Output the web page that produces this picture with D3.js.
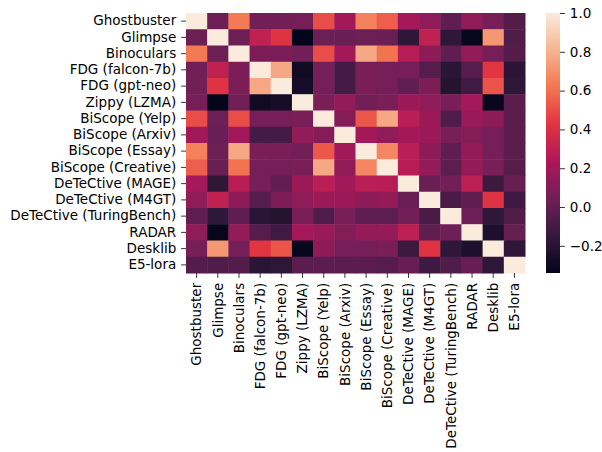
<!DOCTYPE html>
<html>
<head>
<meta charset="utf-8">
<script src="https://cdn.jsdelivr.net/npm/d3@7"></script>
<style>
	body { margin: 0; background: #fff; }
	text { font-family: "DejaVu Sans", sans-serif; fill: #000; }
</style>
</head>
<body>
<script>
var labels = ['Ghostbuster', 'Glimpse', 'Binoculars', 'FDG (falcon-7b)', 'FDG (gpt-neo)', 'Zippy (LZMA)',
	'BiScope (Yelp)', 'BiScope (Arxiv)', 'BiScope (Essay)', 'BiScope (Creative)', 'DeTeCtive (MAGE)',
	'DeTeCtive (M4GT)', 'DeTeCtive (TuringBench)', 'RADAR', 'Desklib', 'E5-lora'];

// correlation rows
var rowGhostbuster = [1, .03, .63, .05, .05, .06, .50, .20, .65, .55, .21, .14, -.01, .14, .06, -.05];
var rowGlimpse = [.03, 1, .03, .30, .42, -.34, .03, .02, .03, .02, -.17, .30, -.17, -.33, .72, -.06];
var rowBinoculars = [.63, .03, 1, .08, .08, .05, .50, .20, .77, .61, .27, .13, -.01, .15, .06, -.05];
var rowFalcon = [.05, .30, .08, 1, .77, -.29, .06, -.10, .07, .06, .06, -.04, -.19, -.04, .43, -.19];
var rowGptNeo = [.05, .42, .08, .77, 1, -.27, .06, -.10, .07, .06, 0, .08, -.21, -.11, .52, -.18];
var rowZippy = [.06, -.34, .05, -.29, -.27, 1, .07, .15, .05, .07, .18, .14, .07, .21, -.32, -.03];
var rowYelp = [.50, .03, .50, .06, .06, .07, 1, .11, .53, .77, .28, .18, -.06, .17, .13, -.03];
var rowArxiv = [.20, .02, .20, -.10, -.10, .15, .11, 1, .20, .14, .20, .18, .07, .10, .06, -.03];
var rowEssay = [.65, .03, .77, .07, .07, .05, .53, .20, 1, .67, .28, .13, -.01, .16, .06, -.03];
var rowCreative = [.55, .02, .61, .06, .06, .07, .77, .14, .67, 1, .27, .15, -.02, .16, .07, -.04];
var rowMage = [.21, -.17, .27, .06, 0, .18, .28, .20, .28, .27, 1, .02, .05, .29, -.13, .01];
var rowM4gt = [.14, .30, .13, -.04, .08, .14, .18, .18, .13, .15, .02, 1, -.08, -.01, .42, -.12];
var rowTuring = [-.01, -.17, -.01, -.19, -.21, .07, -.06, .07, -.01, -.02, .05, -.08, 1, .04, -.17, -.06];
var rowRadar = [.14, -.33, .15, -.04, -.11, .21, .17, .10, .16, .16, .29, -.01, .04, 1, -.24, .01];
var rowDesklib = [.06, .72, .06, .43, .52, -.32, .13, .06, .06, .07, -.13, .42, -.17, -.24, 1, -.18];
var rowE5 = [-.05, -.06, -.05, -.19, -.18, -.03, -.03, -.03, -.03, -.04, .01, -.12, -.06, .01, -.18, 1];

var matrix = [rowGhostbuster, rowGlimpse, rowBinoculars, rowFalcon, rowGptNeo, rowZippy, rowYelp, rowArxiv,
	rowEssay, rowCreative, rowMage, rowM4gt, rowTuring, rowRadar, rowDesklib, rowE5];

var cbTicks = [-0.2, 0, 0.2, 0.4, 0.6, 0.8, 1.0];

var vmin = -0.34, vmax = 1;

// rocket colormap approximation
var rocketStops = ['#03051a', '#35193e', '#701f57', '#ad1759', '#e13342', '#f37651', '#f6b48f', '#faebdd'];
var rocket = d3.scaleLinear()
	.domain(d3.range(rocketStops.length).map(function(i) { return i / (rocketStops.length - 1); }))
	.range(rocketStops)
	.interpolate(d3.interpolateRgb);
var color = function(v) { return rocket((v - vmin) / (vmax - vmin)); };

var W = 602, H = 452;
var plotL = 186, plotT = 13, plotR = 525, plotB = 273;
var fontPx = "13.5px";

var svg = d3.select("body").append("svg")
	.attr("width", W)
	.attr("height", H);

var x = d3.scaleBand().domain(d3.range(16)).range([plotL, plotR]);
var y = d3.scaleBand().domain(d3.range(16)).range([plotT, plotB]);

// cells
var cells = [];
matrix.forEach(function(row, i) {
	row.forEach(function(v, j) { cells.push({ r: i, c: j, v: v }); });
});

svg.append("g").selectAll("rect")
	.data(cells)
	.enter().append("rect")
	.attr("x", function(d) { return x(d.c); })
	.attr("y", function(d) { return y(d.r); })
	.attr("width", x.bandwidth() + 0.5)
	.attr("height", y.bandwidth() + 0.5)
	.attr("fill", function(d) { return color(d.v); });

// axes
var fmtLabel = function(i) { return labels[i]; };

var yAxis = svg.append("g")
	.attr("transform", "translate(" + plotL + ",0)")
	.call(d3.axisLeft(y).tickFormat(fmtLabel).tickSize(4.9).tickPadding(4.9));

var xAxis = svg.append("g")
	.attr("transform", "translate(0," + plotB + ")")
	.call(d3.axisBottom(x).tickFormat(fmtLabel).tickSize(4.9).tickPadding(4.9));

xAxis.selectAll("text")
	.attr("transform", "rotate(-90)")
	.attr("x", -9.8)
	.attr("y", 0)
	.attr("dy", "0.35em")
	.style("text-anchor", "end");

[xAxis, yAxis].forEach(function(a) {
	a.select(".domain").remove();
	a.selectAll("line").attr("stroke", "#000").attr("stroke-width", 0.8);
	a.selectAll("text").style("font-size", fontPx).style("font-family", "DejaVu Sans, sans-serif");
});

// colorbar
var cbX = 546, cbW = 14;
var cbScale = d3.scaleLinear().domain([vmin, vmax]).range([plotB, plotT]);

var grad = svg.append("defs").append("linearGradient")
	.attr("id", "cbgrad")
	.attr("x1", 0).attr("y1", 1).attr("x2", 0).attr("y2", 0);
d3.range(0, 1.0001, 0.02).forEach(function(t) {
	grad.append("stop").attr("offset", t).attr("stop-color", rocket(t));
});

svg.append("rect")
	.attr("x", cbX)
	.attr("y", plotT)
	.attr("width", cbW)
	.attr("height", plotB - plotT)
	.attr("fill", "url(#cbgrad)");

var cbAxis = svg.append("g")
	.attr("transform", "translate(" + (cbX + cbW) + ",0)")
	.call(d3.axisRight(cbScale).tickValues(cbTicks).tickSize(4.9).tickPadding(4.9)
		.tickFormat(function(d) { return d3.format(".1f")(d).replace("-", "\u2212"); }));
cbAxis.select(".domain").remove();
cbAxis.selectAll("line").attr("stroke", "#000").attr("stroke-width", 0.8);
cbAxis.selectAll("text").style("font-size", fontPx).style("font-family", "DejaVu Sans, sans-serif");
</script>
</body>
</html>
